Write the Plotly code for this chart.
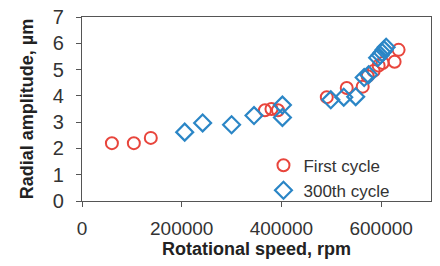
import plotly.graph_objects as go

first_x = [60000, 104000, 138000, 367000, 380000, 393000, 491000, 531000, 563000,
           573000, 585000, 595000, 603000, 627000, 635000]
first_y = [2.2, 2.2, 2.4, 3.45, 3.5, 3.45, 3.95, 4.3, 4.35, 4.75, 4.95, 5.15, 5.25, 5.3, 5.75]

c300_x = [206000, 242000, 300000, 345000, 402000, 402000, 499000, 525000, 549000,
          566000, 575000, 593000, 598000, 602000, 606000, 610000]
c300_y = [2.62, 2.97, 2.9, 3.25, 3.65, 3.18, 3.85, 3.95, 3.97, 4.7, 4.8, 5.45, 5.55, 5.65, 5.75, 5.85]

x_ticks = [0, 200000, 400000, 600000]
y_ticks = [0, 1, 2, 3, 4, 5, 6, 7]

red = "#e8453c"
blue = "#2b86c6"

fig = go.Figure()
fig.add_trace(go.Scatter(x=first_x, y=first_y, mode="markers", name="First cycle",
                         marker=dict(symbol="circle-open", size=12, color=red, line=dict(width=2, color=red))))
fig.add_trace(go.Scatter(x=c300_x, y=c300_y, mode="markers", name="300th cycle",
                         marker=dict(symbol="diamond-open", size=13, color=blue, line=dict(width=2.2, color=blue))))

font = "Liberation Sans, Arial, sans-serif"
fig.update_layout(
    width=440, height=266,
    margin=dict(l=82, r=9, t=17, b=65),
    paper_bgcolor="white", plot_bgcolor="white",
    font=dict(family=font, size=19, color="#333333"),
    showlegend=True,
    legend=dict(x=0.52, y=0.29, xanchor="left", yanchor="top", bgcolor="rgba(0,0,0,0)",
                font=dict(size=17, color="#333333"), itemwidth=30, tracegroupgap=0),
)
fig.update_xaxes(range=[0, 700000], tickvals=x_ticks, ticktext=[str(v) for v in x_ticks],
                 tickfont=dict(size=19),
                 showgrid=False, zeroline=False, showline=True, linecolor="#555555", linewidth=1.2,
                 mirror=True, ticks="outside", ticklen=5, tickcolor="#555555",
                 ticklabelstandoff=5, automargin=False, ticklabeloverflow="allow",
                 title=dict(text="<b>Rotational speed, rpm</b>", font=dict(size=18, color="#222222"), standoff=2))
fig.update_yaxes(range=[0, 7], tickvals=y_ticks,
                 tickfont=dict(size=20),
                 showgrid=False, zeroline=False, showline=True, linecolor="#555555", linewidth=1.2,
                 mirror=True, ticks="outside", ticklen=5, tickcolor="#555555",
                 ticklabelstandoff=8, automargin=False, ticklabeloverflow="allow",
                 title=dict(text="<b>Radial amplitude, µm</b>", font=dict(size=18, color="#222222"), standoff=14))

fig.write_html("out.html", config={"displayModeBar": False},
               post_script="document.body.style.margin='0';")
